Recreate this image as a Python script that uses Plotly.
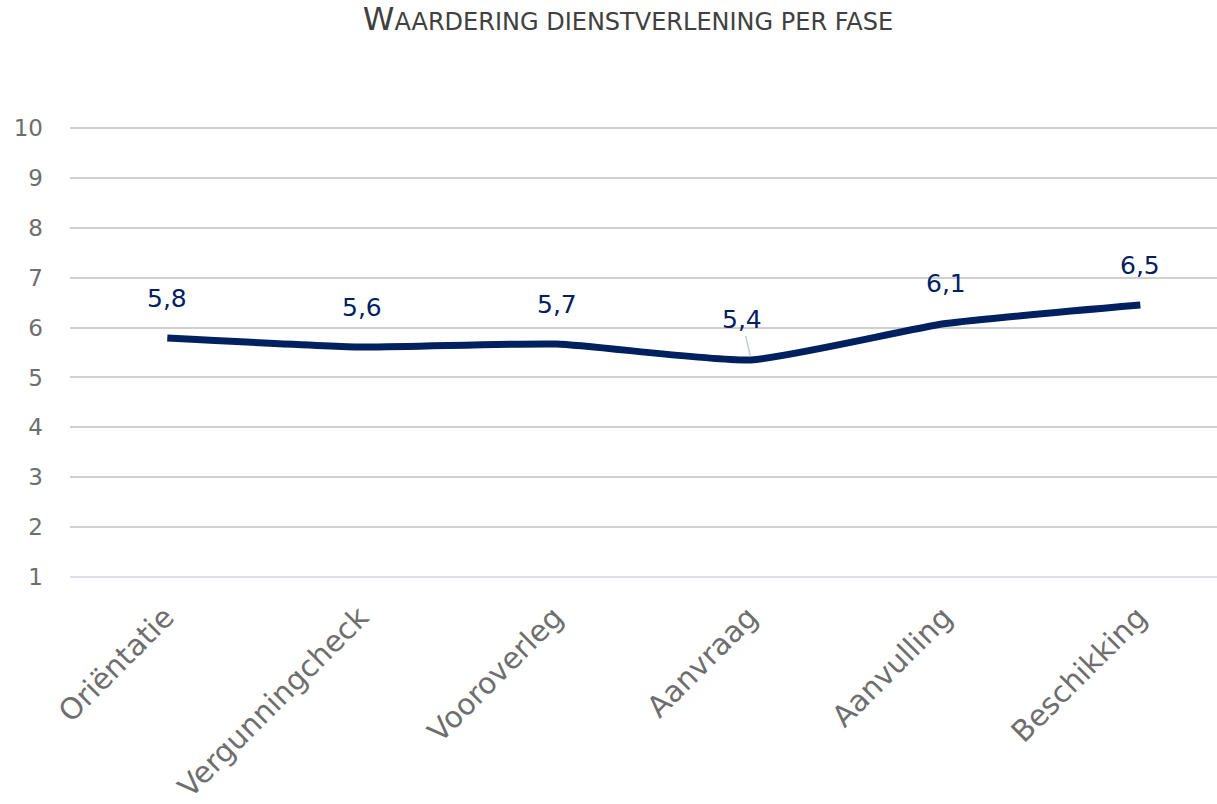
import plotly.graph_objects as go

categories = ["Oriëntatie", "Vergunningcheck", "Vooroverleg", "Aanvraag", "Aanvulling", "Beschikking"]
values = [5.79, 5.61, 5.67, 5.35, 6.08, 6.45]
labels = ["5,8", "5,6", "5,7", "5,4", "6,1", "6,5"]
y_ticks = [1, 2, 3, 4, 5, 6, 7, 8, 9, 10]

NAVY = "#002060"
GREY = "#6E6E6E"
FONT = "DejaVu Sans"

fig = go.Figure()
fig.add_trace(go.Scatter(
    x=list(range(len(categories))), y=values, mode="lines",
    line=dict(color=NAVY, width=7, shape="spline", smoothing=0.5),
    hoverinfo="skip", showlegend=False,
))

for i, (v, lab) in enumerate(zip(values, labels)):
    if lab == "5,4":
        fig.add_annotation(x=i, y=v, text=lab, showarrow=True, arrowhead=0,
                           ax=-9, ay=-40, standoff=4, arrowwidth=1.5, arrowcolor="#C5CCD6",
                           font=dict(family=FONT, size=25, color=NAVY))
    else:
        fig.add_annotation(x=i, y=v, text=lab, showarrow=False, yshift=40,
                           font=dict(family=FONT, size=25, color=NAVY))

fig.update_layout(
    width=1217, height=804,
    margin=dict(l=70, r=0, t=123, b=222, autoexpand=False),
    paper_bgcolor="white", plot_bgcolor="white",
    title=dict(
        text="<span style='font-size:32px'>W</span>AARDERING DIENSTVERLENING PER FASE",
        x=0.516, xanchor="center", y=0.973, yanchor="middle",
        font=dict(family=FONT, size=24, color="#404040"),
    ),
    xaxis=dict(
        range=[-0.5, 5.394], tickmode="array", tickvals=list(range(len(categories))),
        ticktext=categories, tickangle=-45, showgrid=False, zeroline=False,
        showline=False, ticks="", ticklabelshift=-2, ticklabelstandoff=11,
        automargin=False, tickfont=dict(family=FONT, size=29.5, color=GREY),
    ),
    yaxis=dict(
        range=[0.9, 10.1], tickmode="array", tickvals=y_ticks, ticktext=[str(t) for t in y_ticks],
        showgrid=True, gridcolor="#D0D0D0", gridwidth=1.5, zeroline=False, showline=False,
        automargin=False, ticks="", ticklabelstandoff=26,
        tickfont=dict(family=FONT, size=23, color=GREY),
    ),
)
fig.add_shape(type="line", xref="paper", yref="y", x0=0, x1=1, y0=1, y1=1,
              line=dict(color="#D9E1EE", width=2), layer="above")

fig.write_html("out.html", config={"displayModeBar": False},
               post_script="document.body.style.margin='0';")
